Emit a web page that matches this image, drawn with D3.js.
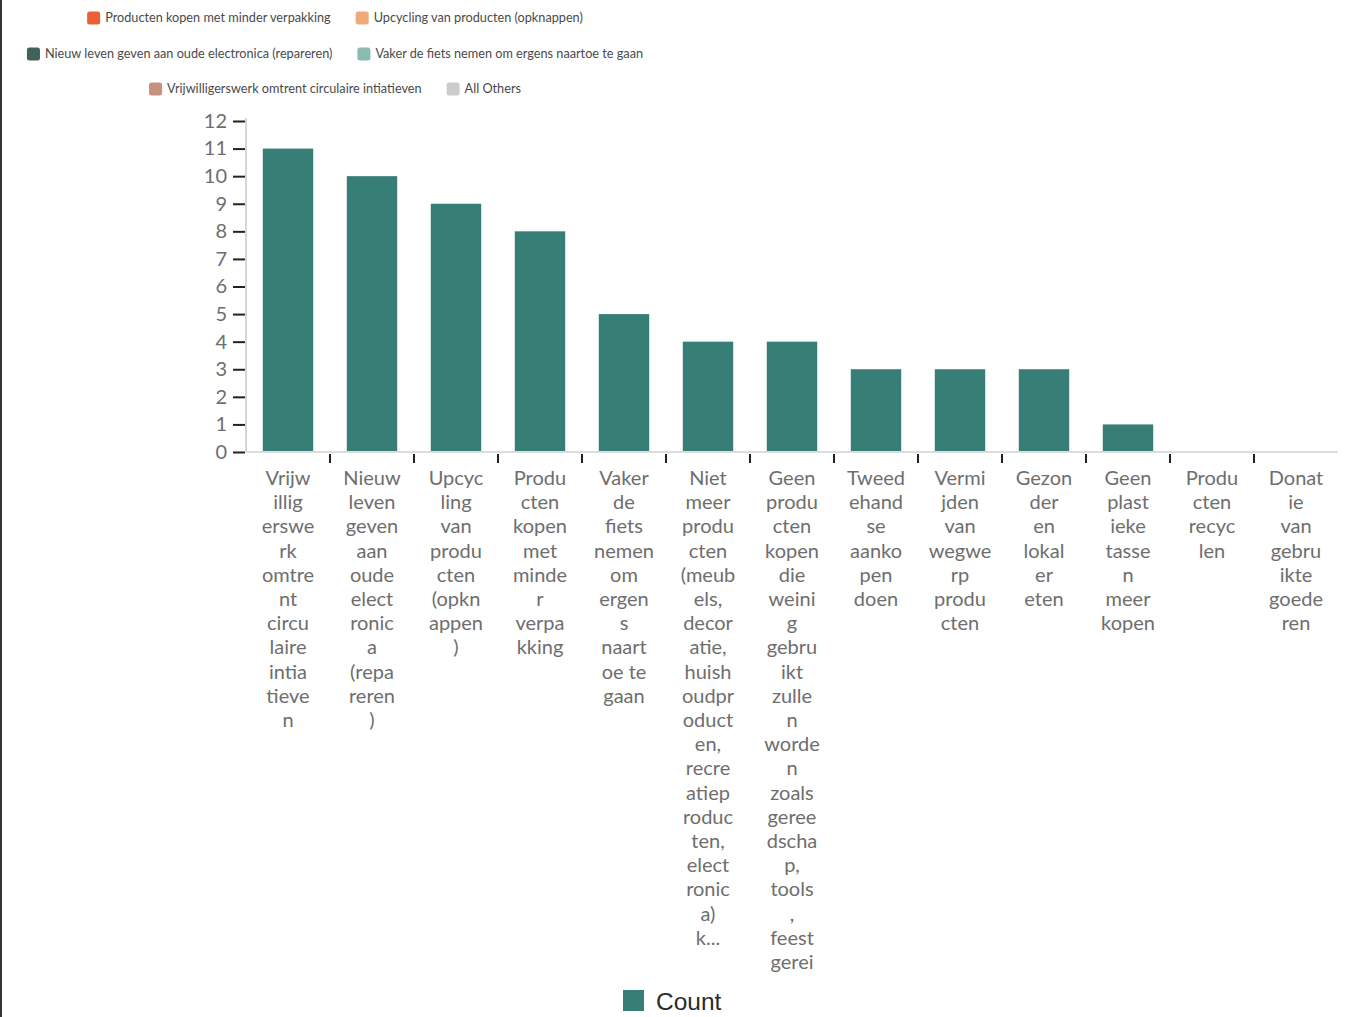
<!DOCTYPE html>
<html>
<head>
<meta charset="utf-8">
<script src="https://cdn.jsdelivr.net/npm/d3@7"></script>
<style>
  html, body { margin: 0; padding: 0; background: #fff; }
  svg { display: block; }
</style>
</head>
<body>
<svg id="chart" width="1360" height="1017"></svg>
<script>
// Measures ranked by how often they were chosen
const categories = [
  "Vrijwilligerswerk omtrent circulaire intiatieven",
  "Nieuw leven geven aan oude electronica (repareren)",
  "Upcycling van producten (opknappen)",
  "Producten kopen met minder verpakking",
  "Vaker de fiets nemen om ergens naartoe te gaan",
  "Niet meer producten (meubels, decoratie, huishoudproducten, recreatieproducten, electronica) k...",
  "Geen producten kopen die weinig gebruikt zullen worden zoals gereedschap, tools, feestgerei",
  "Tweedehandse aankopen doen",
  "Vermijden van wegwerp producten",
  "Gezonder en lokaler eten",
  "Geen plastieke tassen meer kopen",
  "Producten recyclen",
  "Donatie van gebruikte goederen"
];
const counts = [11, 10, 9, 8, 5, 4, 4, 3, 3, 3, 1, 0, 0];
const yTicks = [0, 1, 2, 3, 4, 5, 6, 7, 8, 9, 10, 11, 12];

// Colour legend at the top (three rows of two)
const legendRows = [
  ["Producten kopen met minder verpakking", "Upcycling van producten (opknappen)"],
  ["Nieuw leven geven aan oude electronica (repareren)", "Vaker de fiets nemen om ergens naartoe te gaan"],
  ["Vrijwilligerswerk omtrent circulaire intiatieven", "All Others"]
];
const legendColors = [
  ["#ea6137", "#eeaa78"],
  ["#3f625a", "#88bcae"],
  ["#c69280", "#cccccc"]
];
const seriesName = "Count";
const barColor = "#367e76";

const svg = d3.select("#chart");

// thin frame edge on the left
svg.append("line")
  .attr("x1", 1).attr("x2", 1).attr("y1", 0).attr("y2", 1017)
  .attr("stroke", "#333").attr("stroke-width", 2);

// ---- top legend ----
const legendCenterX = 335;
const legendRowY = [18, 54, 89];
const legendFont = "12.7px Lato, 'Open Sans', sans-serif";
const legendG = svg.append("g");
legendRows.forEach((row, ri) => {
  const g = legendG.append("g");
  let x = 0;
  row.forEach((label, i) => {
    g.append("rect")
      .attr("x", x).attr("y", legendRowY[ri] - 6.5)
      .attr("width", 13).attr("height", 13)
      .attr("rx", 2.5)
      .attr("fill", legendColors[ri][i]);
    const t = g.append("text")
      .attr("x", x + 18).attr("y", legendRowY[ri])
      .attr("dy", "0.35em")
      .style("font", legendFont)
      .attr("fill", "#4a4a4a")
      .text(label);
    const w = t.node().getComputedTextLength();
    x += 18 + w + 25;
  });
  const total = x - 25;
  g.attr("transform", `translate(${legendCenterX - total / 2},0)`);
});

// ---- scales ----
const x0 = 246, x1 = 1338;
const yBase = 452, yTop = 121;

const x = d3.scaleBand()
  .domain(categories)
  .range([x0, x1])
  .paddingInner(0.4)
  .paddingOuter(0.2);

const y = d3.scaleLinear()
  .domain([0, 12])
  .range([yBase, yTop]);

// ---- bars ----
svg.append("g").selectAll("rect")
  .data(categories)
  .join("rect")
  .attr("x", d => x(d))
  .attr("width", x.bandwidth())
  .attr("y", (d, i) => y(counts[i]))
  .attr("height", (d, i) => yBase - y(counts[i]))
  .attr("fill", barColor);

// ---- y axis ----
svg.append("line")
  .attr("x1", x0).attr("x2", x0)
  .attr("y1", yTop - 3).attr("y2", yBase)
  .attr("stroke", "#d6d6d6").attr("stroke-width", 2);

const yAxis = svg.append("g")
  .attr("transform", `translate(${x0 - 1},0)`)
  .call(d3.axisLeft(y).tickValues(yTicks).tickSize(12).tickPadding(6).tickFormat(d3.format("d")));
yAxis.select(".domain").remove();
yAxis.selectAll(".tick line").attr("stroke", "#222").attr("stroke-width", 2);
yAxis.selectAll(".tick text")
  .style("font", "20px Lato, 'Open Sans', sans-serif")
  .attr("fill", "#6e6e6e");

// ---- x axis baseline and separators ----
svg.append("line")
  .attr("x1", x0).attr("x2", x1)
  .attr("y1", yBase).attr("y2", yBase)
  .attr("stroke", "#dcdcdc").attr("stroke-width", 2);

const step = x.step();
const separators = categories.slice(1).map(c => x(c) - step * x.paddingInner() / 2);
svg.append("g").selectAll("line")
  .data(separators)
  .join("line")
  .attr("x1", d => d).attr("x2", d => d)
  .attr("y1", yBase + 2).attr("y2", yBase + 11)
  .attr("stroke", "#222").attr("stroke-width", 2);

// ---- wrapped category labels (max 5 characters per line) ----
function wrapLabel(text, maxChars) {
  const lines = [];
  let cur = "";
  text.split(" ").forEach(word => {
    if (cur !== "") {
      if ((cur + " " + word).length <= maxChars) {
        cur = cur + " " + word;
        return;
      }
      lines.push(cur);
      cur = "";
    }
    let w = word;
    while (w.length > maxChars) {
      lines.push(w.slice(0, maxChars));
      w = w.slice(maxChars);
    }
    cur = w;
  });
  if (cur !== "") lines.push(cur);
  return lines;
}

const labelG = svg.append("g");
categories.forEach(c => {
  const lines = wrapLabel(c, 5);
  const t = labelG.append("text")
    .attr("text-anchor", "middle")
    .style("font", "20px Lato, 'Open Sans', sans-serif")
    .attr("fill", "#6e6e6e");
  lines.forEach((ln, i) => {
    t.append("tspan")
      .attr("x", x(c) + x.bandwidth() / 2)
      .attr("y", 485 + i * 24.2)
      .text(ln);
  });
});

// ---- series legend at the bottom ----
svg.append("rect")
  .attr("x", 623).attr("y", 990)
  .attr("width", 21).attr("height", 21)
  .attr("fill", barColor);
svg.append("text")
  .attr("x", 656).attr("y", 1010)
  .style("font", "24.5px 'Liberation Sans', Arial, sans-serif")
  .attr("fill", "#2b2b2b")
  .text(seriesName);
</script>
</body>
</html>
